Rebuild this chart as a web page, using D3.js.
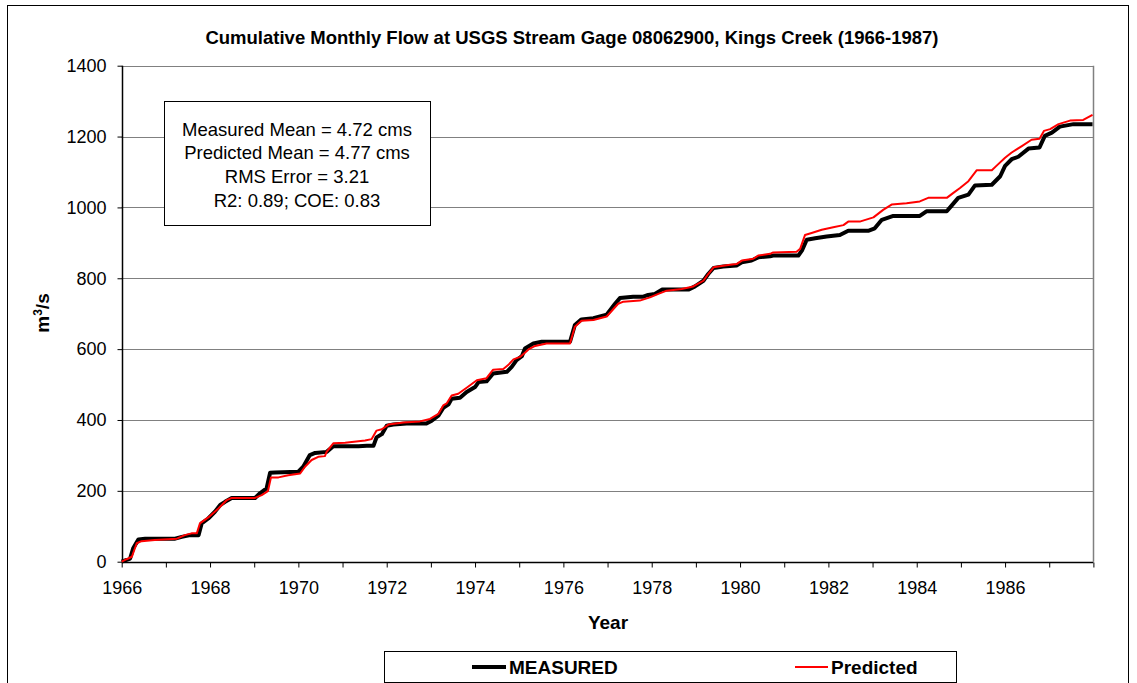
<!DOCTYPE html>
<html>
<head>
<meta charset="utf-8">
<script src="https://cdn.jsdelivr.net/npm/d3@7"></script>
<style>
  body { margin: 0; background: #fff; }
  svg { font-family: "Liberation Sans", Arial, sans-serif; }
</style>
</head>
<body>
<svg id="chart" width="1137" height="683"></svg>
<script>
// cumulative flow (decimal year, m3/s)
var measuredYear = [1966.0, 1966.19, 1966.26, 1966.38, 1966.53, 1967.21, 1967.36, 1967.55, 1967.74, 1967.81,
  1967.96, 1968.11, 1968.23, 1968.34, 1968.49, 1969.02, 1969.13, 1969.28, 1969.36, 1969.47,
  1970.0, 1970.11, 1970.26, 1970.38, 1970.64, 1970.79, 1971.36, 1971.55, 1971.70, 1971.77,
  1971.89, 1972.0, 1972.15, 1972.45, 1972.90, 1973.02, 1973.17, 1973.28, 1973.40, 1973.47,
  1973.66, 1973.81, 1974.0, 1974.08, 1974.26, 1974.41, 1974.72, 1974.83, 1974.94, 1975.06,
  1975.13, 1975.32, 1975.51, 1976.15, 1976.26, 1976.41, 1976.68, 1976.98, 1977.17, 1977.28,
  1977.58, 1977.81, 1977.92, 1978.07, 1978.23, 1978.83, 1978.98, 1979.17, 1979.28, 1979.40,
  1979.62, 1979.92, 1980.04, 1980.26, 1980.41, 1980.68, 1980.75, 1981.32, 1981.40, 1981.51,
  1981.70, 1981.96, 1982.26, 1982.45, 1982.90, 1983.05, 1983.21, 1983.47, 1984.07, 1984.22,
  1984.68, 1984.79, 1984.94, 1985.17, 1985.32, 1985.70, 1985.89, 1986.0, 1986.15, 1986.30,
  1986.53, 1986.78, 1986.90, 1987.06, 1987.24, 1987.55, 1987.98];
var measuredFlow = [0, 9, 38, 63, 65, 65, 70, 75, 75, 108,
  122, 141, 160, 169, 180, 180, 193, 207, 251, 252,
  254, 268, 301, 307, 310, 326, 326, 327, 327, 351,
  360, 384, 387, 390, 390, 398, 412, 434, 444, 460,
  463, 479, 493, 507, 509, 531, 536, 550, 569, 580,
  602, 616, 621, 621, 668, 684, 687, 697, 728, 744,
  748, 748, 753, 756, 768, 768, 777, 793, 812, 829,
  833, 836, 845, 850, 859, 862, 864, 864, 878, 909,
  913, 918, 922, 934, 934, 941, 965, 976, 976, 989,
  989, 1005, 1027, 1036, 1062, 1064, 1088, 1117, 1136, 1143,
  1166, 1169, 1202, 1211, 1228, 1235, 1235];

var predictedYear = [1966.0, 1966.11, 1966.23, 1966.34, 1966.45, 1966.75, 1967.25, 1967.43, 1967.58, 1967.70,
  1967.77, 1967.96, 1968.19, 1968.38, 1968.49, 1969.02, 1969.17, 1969.31, 1969.38, 1969.55,
  1969.77, 1970.04, 1970.15, 1970.30, 1970.45, 1970.60, 1970.64, 1970.79, 1971.06, 1971.51,
  1971.66, 1971.77, 1971.89, 1972.04, 1972.38, 1972.75, 1972.98, 1973.17, 1973.28, 1973.36,
  1973.47, 1973.62, 1973.81, 1974.04, 1974.26, 1974.41, 1974.64, 1974.75, 1974.87, 1975.02,
  1975.21, 1975.36, 1975.62, 1976.15, 1976.26, 1976.41, 1976.68, 1976.98, 1977.24, 1977.36,
  1977.73, 1977.96, 1978.15, 1978.34, 1978.68, 1978.94, 1979.17, 1979.28, 1979.40, 1979.77,
  1979.92, 1980.04, 1980.30, 1980.41, 1980.68, 1980.75, 1981.28, 1981.36, 1981.47, 1981.62,
  1981.85, 1982.11, 1982.34, 1982.45, 1982.71, 1983.02, 1983.24, 1983.43, 1983.77, 1984.07,
  1984.26, 1984.68, 1984.83, 1984.98, 1985.17, 1985.36, 1985.70, 1985.81, 1986.0, 1986.15,
  1986.38, 1986.60, 1986.78, 1986.88, 1987.02, 1987.21, 1987.47, 1987.77, 1987.98];
var predictedFlow = [0, 7, 14, 52, 58, 61, 65, 75, 80, 80,
  108, 125, 150, 174, 180, 180, 188, 199, 238, 238,
  244, 249, 268, 287, 296, 298, 310, 334, 336, 342,
  346, 370, 374, 387, 393, 396, 403, 417, 441, 447,
  469, 474, 491, 512, 518, 542, 544, 555, 571, 578,
  599, 609, 616, 616, 663, 680, 682, 692, 728, 734,
  737, 746, 756, 765, 770, 777, 793, 812, 831, 838,
  840, 850, 855, 864, 869, 873, 875, 883, 922, 928,
  937, 944, 950, 960, 960, 972, 993, 1008, 1012, 1017,
  1027, 1027, 1041, 1055, 1074, 1105, 1105, 1118, 1140, 1155,
  1173, 1191, 1194, 1216, 1221, 1235, 1245, 1247, 1261];

var yTicks = [0, 200, 400, 600, 800, 1000, 1200, 1400];
var xTickLabels = [1966, 1968, 1970, 1972, 1974, 1976, 1978, 1980, 1982, 1984, 1986];
var statsLines = ["Measured Mean = 4.72 cms", "Predicted Mean = 4.77 cms", "RMS Error = 3.21", "R2: 0.89; COE: 0.83"];

var margin = {left: 121.7, right: 1093.4, top: 65.7, bottom: 561.7};

var svg = d3.select("#chart");

// outer frame
svg.append("rect")
    .attr("x", 7.5).attr("y", 5.5)
    .attr("width", 1121).attr("height", 700)
    .attr("fill", "#fff").attr("stroke", "#000").attr("stroke-width", 1);

var x = d3.scaleLinear().domain([1966, 1988]).range([margin.left, margin.right]);
var y = d3.scaleLinear().domain([0, 1400]).range([margin.bottom, margin.top]);

// gridlines
svg.append("g")
    .selectAll("line")
    .data(yTicks.filter(function(d) { return d > 0; }))
    .enter()
    .append("line")
    .attr("x1", margin.left).attr("x2", margin.right)
    .attr("y1", function(d) { return Math.round(y(d)) + 0.5; })
    .attr("y2", function(d) { return Math.round(y(d)) + 0.5; })
    .attr("stroke", "#808080").attr("stroke-width", 1);

// right border of plot
svg.append("line")
    .attr("x1", Math.round(margin.right) + 0.5).attr("x2", Math.round(margin.right) + 0.5)
    .attr("y1", margin.top).attr("y2", margin.bottom)
    .attr("stroke", "#808080").attr("stroke-width", 1.5);

// y axis
var yAxis = svg.append("g")
    .attr("transform", "translate(" + (Math.round(margin.left) + 0.5) + ",0)")
    .call(d3.axisLeft(y).tickValues(yTicks).tickSize(5).tickPadding(11).tickFormat(d3.format("d")));

// x axis: tick every year, label every two
var xAxis = svg.append("g")
    .attr("transform", "translate(0," + (Math.round(margin.bottom) + 0.5) + ")")
    .call(d3.axisBottom(x).tickValues(d3.range(1966, 1989)).tickSize(5).tickPadding(14)
        .tickFormat(function(d) { return xTickLabels.indexOf(d) >= 0 ? d : ""; }));

[xAxis, yAxis].forEach(function(a) {
    a.select(".domain").attr("stroke", "#000").attr("stroke-width", 1.5);
    a.selectAll(".tick line").attr("stroke", "#000");
    a.selectAll(".tick text").attr("fill", "#000")
        .style("font-family", "'Liberation Sans', Arial, sans-serif")
        .style("font-size", "18px");
});
xAxis.select(".domain").attr("d", "M" + margin.left + ",0H" + margin.right);
yAxis.select(".domain").attr("d", "M0," + margin.bottom + "V" + margin.top);

// lines
var line = d3.line()
    .x(function(d) { return x(d[0]); })
    .y(function(d) { return y(d[1]); });

var measured = measuredYear.map(function(d, i) { return [d, measuredFlow[i]]; });
var predicted = predictedYear.map(function(d, i) { return [d, predictedFlow[i]]; });

svg.append("path")
    .datum(measured)
    .attr("d", line)
    .attr("fill", "none").attr("stroke", "#000").attr("stroke-width", 4)
    .attr("stroke-linejoin", "round");

svg.append("path")
    .datum(predicted)
    .attr("d", line)
    .attr("fill", "none").attr("stroke", "#ff0000").attr("stroke-width", 2)
    .attr("stroke-linejoin", "round");

// stats box
svg.append("rect")
    .attr("x", 164.5).attr("y", 101.5).attr("width", 266).attr("height", 124)
    .attr("fill", "#fff").attr("stroke", "#000").attr("stroke-width", 1);

svg.append("g")
    .selectAll("text")
    .data(statsLines)
    .enter()
    .append("text")
    .attr("x", 297)
    .attr("y", function(d, i) { return 135.5 + i * 23.7; })
    .attr("text-anchor", "middle")
    .style("font-size", "18.5px")
    .text(function(d) { return d; });

// title and axis titles
svg.append("text")
    .attr("x", 572).attr("y", 43.5)
    .attr("text-anchor", "middle")
    .style("font-size", "18.5px").style("font-weight", "bold")
    .text("Cumulative Monthly Flow at USGS Stream Gage 08062900, Kings Creek (1966-1987)");

svg.append("text")
    .attr("x", 608).attr("y", 628.5)
    .attr("text-anchor", "middle")
    .style("font-size", "19px").style("font-weight", "bold")
    .text("Year");

var ylab = svg.append("text")
    .attr("transform", "translate(49,313) rotate(-90)")
    .attr("text-anchor", "middle")
    .style("font-size", "19px").style("font-weight", "bold");
ylab.append("tspan").text("m");
ylab.append("tspan").attr("dy", -7).style("font-size", "12px").text("3");
ylab.append("tspan").attr("dy", 7).text("/s");

// legend
svg.append("rect")
    .attr("x", 384.5).attr("y", 651.5).attr("width", 572).attr("height", 31)
    .attr("fill", "#fff").attr("stroke", "#000").attr("stroke-width", 1);

var legendItems = [
    {name: "MEASURED", color: "#000", width: 4, x1: 472, x2: 506},
    {name: "Predicted", color: "#ff0000", width: 2, x1: 795, x2: 828}
];
var leg = svg.append("g").selectAll("g").data(legendItems).enter().append("g");
leg.append("line")
    .attr("x1", function(d) { return d.x1; }).attr("x2", function(d) { return d.x2; })
    .attr("y1", 667).attr("y2", 667)
    .attr("stroke", function(d) { return d.color; })
    .attr("stroke-width", function(d) { return d.width; });
leg.append("text")
    .attr("x", function(d) { return d.x2 + 3; })
    .attr("y", 673.5)
    .style("font-size", "19px").style("font-weight", "bold")
    .text(function(d) { return d.name; });
</script>
</body>
</html>
